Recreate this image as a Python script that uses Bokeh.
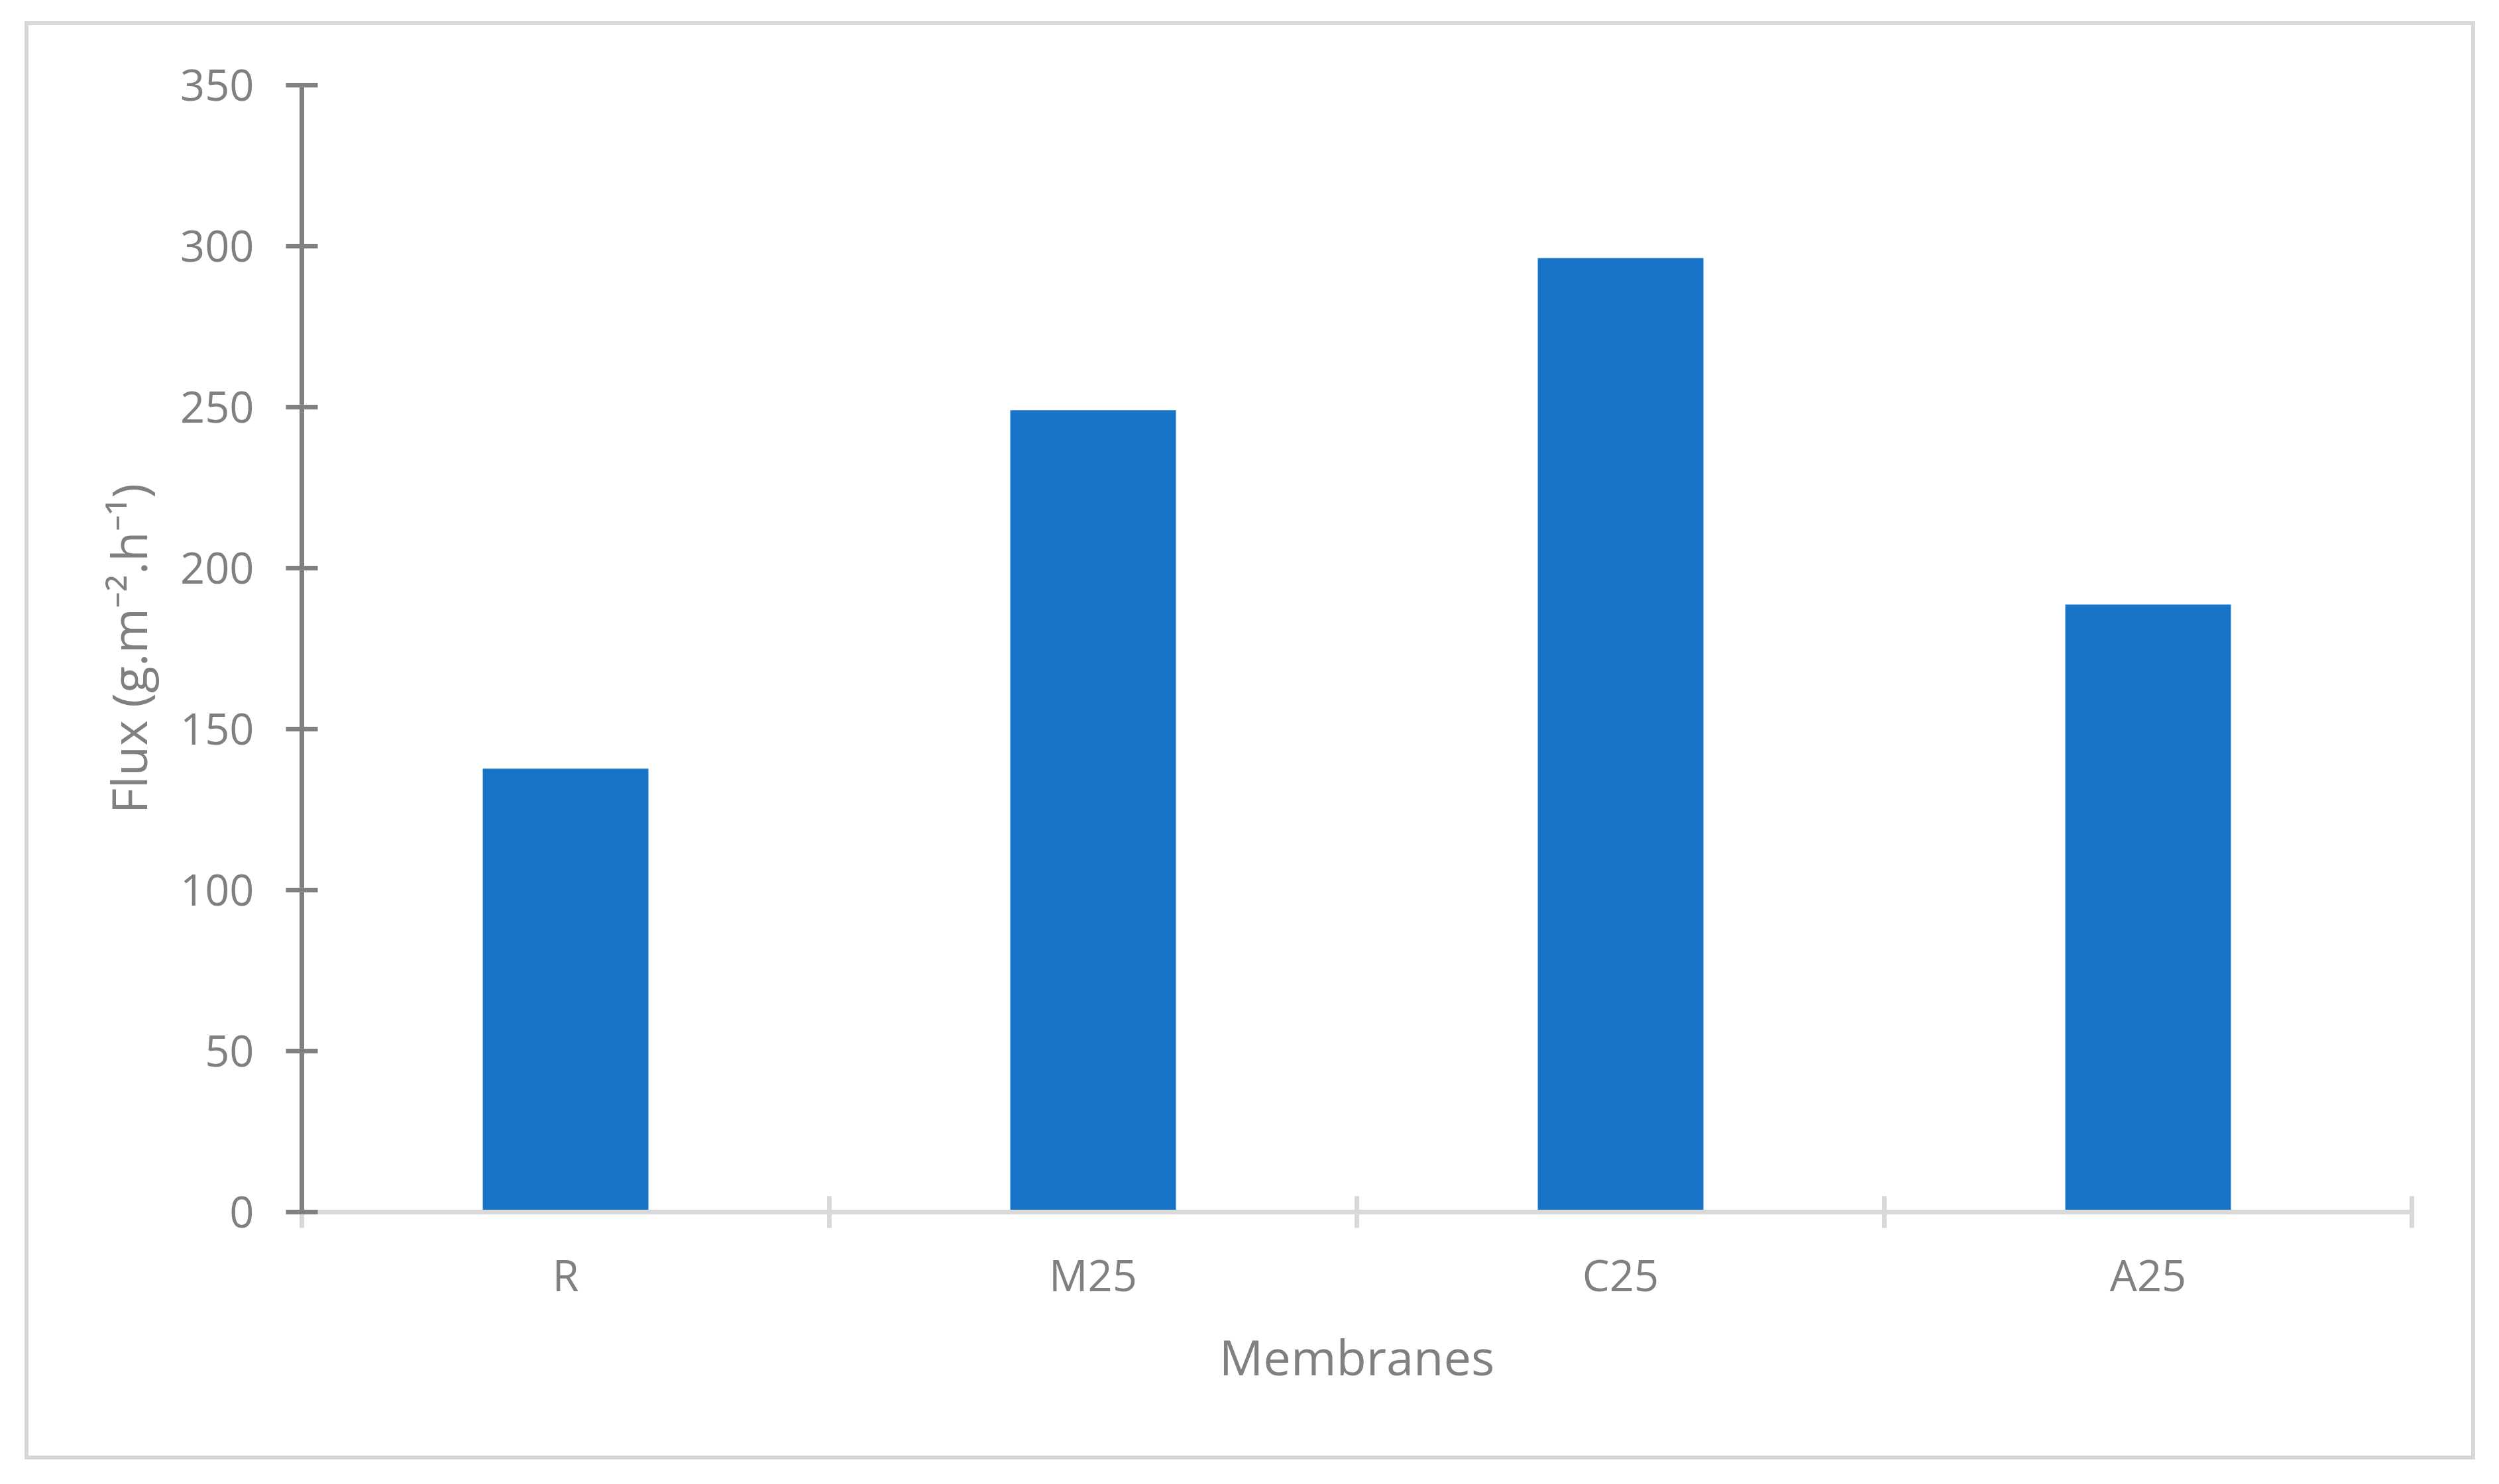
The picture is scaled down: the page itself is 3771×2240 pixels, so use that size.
from bokeh.plotting import figure
from bokeh.models import Range1d, FixedTicker, LinearAxis
from bokeh.embed import file_html
from bokeh.resources import INLINE

# ---- data ----
categories = ["R", "M25", "C25", "A25"]
flux = [137.7, 249.0, 296.3, 188.7]
y_ticks = [0, 50, 100, 150, 200, 250, 300, 350]
x_title = "Membranes"
y_title = "Flux (g.m\u207b\u00b2.h\u207b\u00b9)"

x_pos = [i + 0.5 for i in range(len(categories))]
boundaries = list(range(len(categories) + 1))

FONT = "Open Sans"
TXT = "#808080"

W, H = 3698, 2171
p = figure(width=W, height=H, output_backend="svg", toolbar_location=None,
           x_range=Range1d(0, len(categories)), y_range=Range1d(0, 350),
           x_axis_type=None, y_axis_type=None,
           min_border_left=412, min_border_right=102,
           min_border_top=90, min_border_bottom=380)
p.margin = (32, 0, 0, 37)
p.styles = {"border": "6px solid #d9d9d9"}
p.outline_line_color = None
p.background_fill_color = "white"
p.border_fill_color = "white"

p.vbar(x=x_pos, top=flux, bottom=0, width=0.314, fill_color="#1874C9", line_color=None)

# x axis
xaxis = LinearAxis(ticker=FixedTicker(ticks=x_pos, minor_ticks=boundaries),
                   major_label_overrides={x: c for x, c in zip(x_pos, categories)})
xaxis.axis_line_color = "#d9d9d9"
xaxis.axis_line_width = 7
xaxis.major_tick_line_color = None
xaxis.major_tick_in = 0
xaxis.major_tick_out = 0
xaxis.minor_tick_line_color = "#d9d9d9"
xaxis.minor_tick_line_width = 7
xaxis.minor_tick_in = 24
xaxis.minor_tick_out = 24
xaxis.major_label_text_font = FONT
xaxis.major_label_text_font_size = "65px"
xaxis.major_label_text_color = TXT
xaxis.major_label_standoff = 26
xaxis.axis_label = x_title
xaxis.axis_label_text_font = FONT
xaxis.axis_label_text_font_size = "74px"
xaxis.axis_label_text_font_style = "normal"
xaxis.axis_label_text_color = TXT
xaxis.axis_label_standoff = 26
p.add_layout(xaxis, "below")

# y axis
yaxis = LinearAxis(ticker=FixedTicker(ticks=y_ticks))
yaxis.axis_line_color = "#808080"
yaxis.axis_line_width = 7
yaxis.major_tick_line_color = "#808080"
yaxis.major_tick_line_width = 7
yaxis.major_tick_in = 24
yaxis.major_tick_out = 24
yaxis.minor_tick_line_color = None
yaxis.major_label_text_font = FONT
yaxis.major_label_text_font_size = "65px"
yaxis.major_label_text_color = TXT
yaxis.major_label_standoff = 48
yaxis.axis_label = y_title
yaxis.axis_label_text_font = FONT
yaxis.axis_label_text_font_size = "74px"
yaxis.axis_label_text_font_style = "normal"
yaxis.axis_label_text_color = TXT
yaxis.axis_label_standoff = 25
p.add_layout(yaxis, "left")

open("out.html", "w").write(file_html(p, INLINE))
